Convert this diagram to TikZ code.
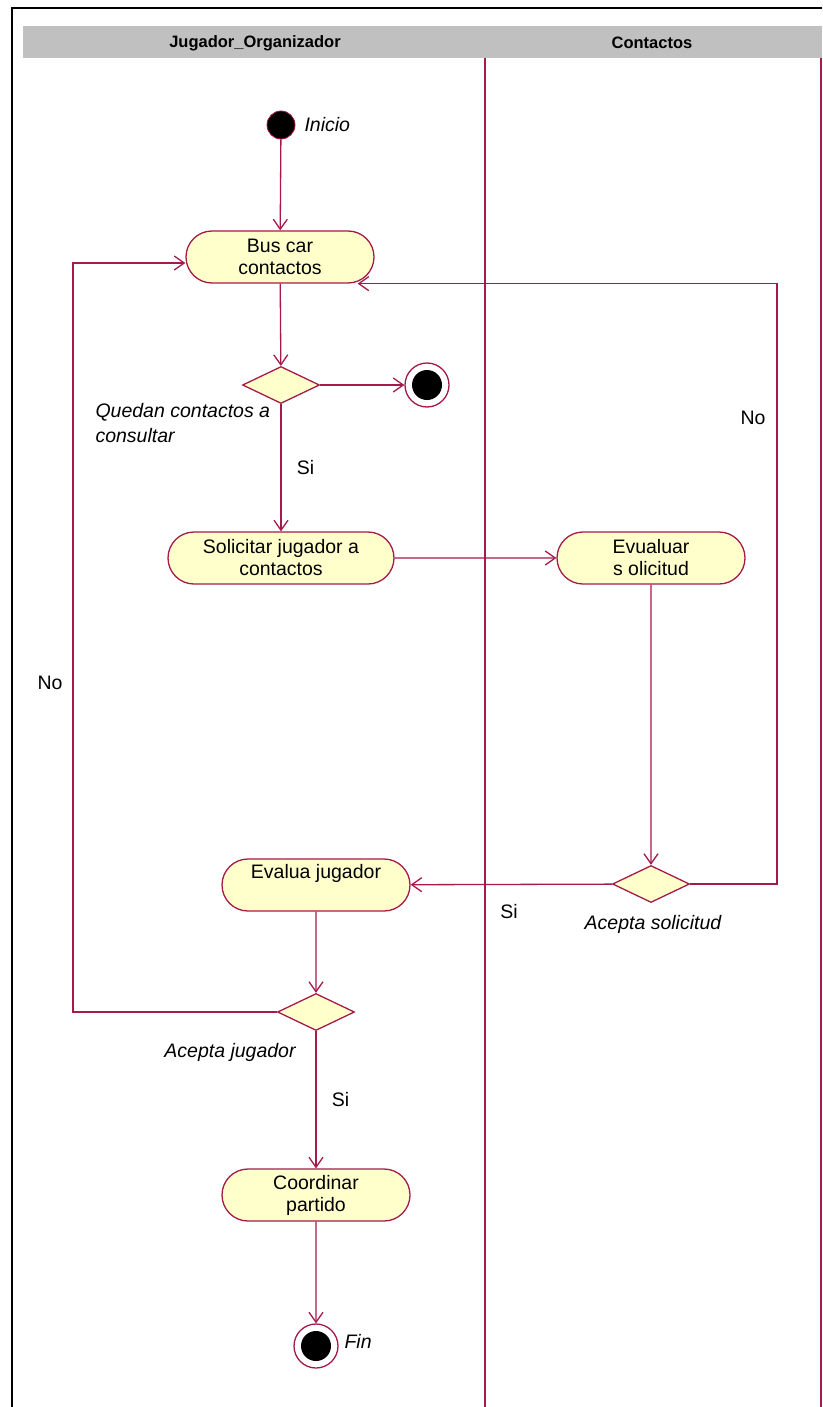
\documentclass[tikz,border=0pt]{standalone}
\usepackage{fontspec}
\setmainfont{Liberation Sans}
\usetikzlibrary{shapes.misc,shapes.geometric,arrows.meta}
\definecolor{roseline}{RGB}{165,25,75}
\definecolor{rosefill}{RGB}{255,255,204}
\definecolor{lanegray}{RGB}{192,192,192}
\begin{document}
\begin{tikzpicture}[x=1pt,y=-1pt,
  activity/.style={rounded rectangle,draw=roseline,fill=rosefill,line width=1.3pt,
    minimum width=188pt,minimum height=52pt,inner sep=0pt,align=center,
    font=\fontsize{19.5}{22}\selectfont},
  decision/.style={diamond,draw=roseline,fill=rosefill,line width=1.3pt,
    minimum width=77pt,minimum height=37pt,inner sep=0pt},
  initial/.style={circle,fill=black,draw=roseline,line width=0.8pt,minimum size=28pt,inner sep=0pt},
  final/.style={circle,draw=roseline,line width=1.3pt,minimum size=44pt,inner sep=0pt,
    path picture={\fill[black] (path picture bounding box.center) circle (15pt);}},
  flow/.style={draw=roseline,line width=1.3pt,-{Straight Barb[length=10pt,width=14pt]}},
  guard/.style={font=\fontsize{19.5}{23}\selectfont},
  note/.style={font=\fontsize{19.5}{25}\selectfont\itshape,align=left},
  lanehead/.style={font=\fontsize{16.5}{18}\selectfont\bfseries}]
 \useasboundingbox (0,0) rectangle (822,1407);
 % frame and swimlanes
 \draw[black,line width=1.8pt] (12,1407) -- (12,8) -- (822,8);
 \fill[lanegray] (23,26) rectangle (822,58);
 \node[lanehead] (lane1) at (255,43) {Jugador\_Organizador};
 \node[lanehead] (lane2) at (652,43) {Contactos};
 \draw[roseline,line width=1.3pt] (485,58) -- (485,1407);
 \draw[roseline,line width=1.3pt] (821,58) -- (821,1407);
 % nodes
 \node[initial] (inicio) at (281,125) {};
 \node[note,anchor=west] (inicio-lbl) at (301,125) {Inicio};
 \node[activity] (buscar) at (280,257) {Bus car\\contactos};
 \node[decision] (quedan) at (281,385) {};
 \node[final] (fin1) at (427,385) {};
 \node[note,anchor=north west] (quedan-lbl) at (92,400) {Quedan contactos a\\consultar};
 \node[activity,minimum width=226pt] (solicitar) at (281,558) {Solicitar jugador a\\contactos};
 \node[activity] (evaluar) at (651,558) {Evualuar\\s olicitud};
 \node[decision] (acepsol) at (651,884) {};
 \node[note] (acepsol-lbl) at (653,924) {Acepta solicitud};
 \node[activity] (evalua) at (316,885) {Evalua jugador\\[-2pt]\strut};
 \node[decision] (acepjug) at (316,1012) {};
 \node[note] (acepjug-lbl) at (230,1052) {Acepta jugador};
 \node[activity] (coordinar) at (316,1195) {Coordinar\\partido};
 \node[final] (fin) at (316,1346) {};
 \node[note,anchor=west] (fin-lbl) at (341,1341) {Fin};
 \coordinate (right-turn) at (777,884);
 \coordinate (left-turn) at (73,1012);
 % flows
 \draw[flow] (inicio) -- (buscar);
 \draw[flow] (buscar) -- (quedan);
 \draw[flow] (quedan) -- (fin1);
 \draw[flow] (quedan) -- node[guard,right,xshift=12pt] (si1) {Si} (solicitar);
 \draw[flow] (solicitar) -- (evaluar);
 \draw[flow] (evaluar) -- (acepsol);
 \draw[flow] (acepsol) -- (evalua);
 \node[guard] (si2) at (509,912) {Si};
 \draw[flow] (acepsol.east) -- (right-turn) |- ([xshift=-17pt]buscar.east |- buscar.south);
 \node[guard] (no1) at (753,418) {No};
 \draw[flow] (evalua) -- (acepjug);
 \draw[flow] (acepjug.west) -- (left-turn) |- ([yshift=-6pt]buscar.west);
 \node[guard] (no2) at (50,683) {No};
 \draw[flow] (acepjug) -- node[guard,right,xshift=12pt] (si3) {Si} (coordinar);
 \draw[flow] (coordinar) -- (fin);
\end{tikzpicture}
\end{document}
